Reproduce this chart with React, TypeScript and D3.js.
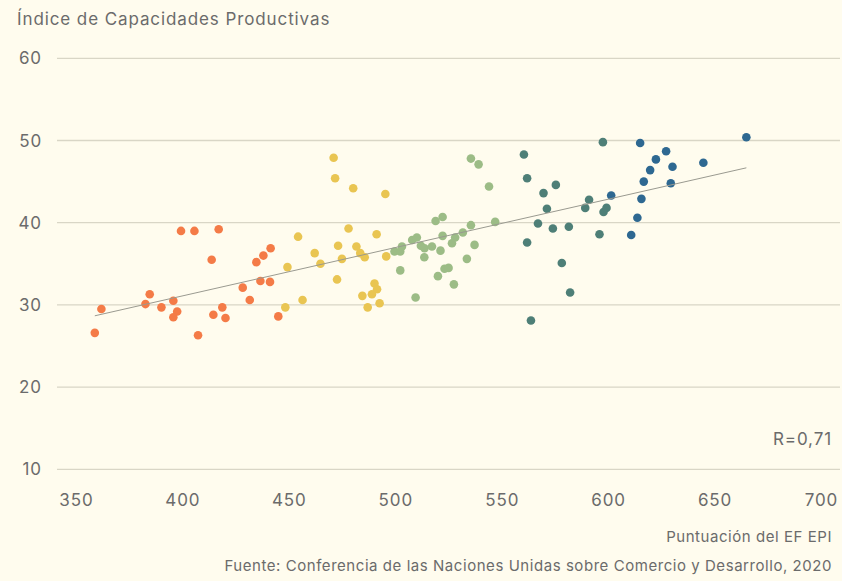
import * as d3 from 'd3'
import React from 'react'

// EF EPI score vs productive capacities index, grouped by EPI band
const naranja: [number, number][] = [
  [358.6, 26.6], [361.7, 29.5], [382.4, 30.1], [384.4, 31.3], [389.9, 29.7], [395.5, 30.5],
  [397.3, 29.2], [395.5, 28.5], [399.1, 39.0], [405.4, 39.0], [407.1, 26.3], [413.5, 35.5],
  [414.3, 28.8], [416.8, 39.2], [418.5, 29.7], [420.0, 28.4], [428.1, 32.1], [431.4, 30.6],
  [434.5, 35.2], [437.8, 36.0], [436.4, 32.9], [441.2, 36.9], [440.9, 32.8], [444.8, 28.6],
]
const amarillo: [number, number][] = [
  [449.1, 34.6], [454.1, 38.3], [461.9, 36.3], [464.6, 35.0], [448.1, 29.7], [456.2, 30.6],
  [470.8, 47.9], [471.5, 45.4], [480.0, 44.2], [495.1, 43.5], [477.8, 39.3], [491.0, 38.6],
  [472.9, 37.2], [481.5, 37.1], [483.3, 36.3], [485.4, 35.8], [474.7, 35.6], [495.5, 35.9],
  [472.4, 33.1], [490.0, 32.6], [491.2, 31.9], [488.8, 31.3], [484.3, 31.1], [492.4, 30.2],
  [486.8, 29.7],
]
const verde: [number, number][] = [
  [499.4, 36.5], [502.1, 36.5], [502.9, 37.1], [502.1, 34.2], [507.7, 37.9], [509.9, 38.2],
  [509.3, 30.9], [511.8, 37.2], [513.5, 36.9], [513.4, 35.8], [517.0, 37.1], [518.7, 40.2],
  [522.0, 40.7], [522.0, 38.4], [521.0, 36.6], [519.8, 33.5], [522.9, 34.4], [524.8, 34.5],
  [526.4, 37.5], [527.9, 38.2], [527.3, 32.5], [531.5, 38.8], [533.4, 35.6], [535.3, 39.7],
  [537.0, 37.3], [535.3, 47.8], [538.9, 47.1], [543.8, 44.4], [546.7, 40.1],
]
const petroleo: [number, number][] = [
  [560.2, 48.3], [561.7, 45.4], [569.4, 43.6], [575.2, 44.6], [571.0, 41.7], [590.8, 42.8],
  [589.0, 41.8], [566.8, 39.9], [573.8, 39.3], [581.3, 39.5], [561.7, 37.6], [578.0, 35.1],
  [581.9, 31.5], [563.5, 28.1], [597.3, 49.8], [595.7, 38.6], [597.6, 41.3], [599.0, 41.8],
]
const azul: [number, number][] = [
  [601.2, 43.3], [614.8, 49.7], [627.0, 48.7], [622.2, 47.7], [630.0, 46.8], [619.5, 46.4],
  [616.5, 45.0], [629.2, 44.8], [615.4, 42.9], [613.5, 40.6], [610.6, 38.5], [644.5, 47.3],
  [664.7, 50.4],
]

const grupos = [
  { datos: naranja, color: '#f47b47' },
  { datos: amarillo, color: '#e9c552' },
  { datos: verde, color: '#9cbc86' },
  { datos: petroleo, color: '#4e7f77' },
  { datos: azul, color: '#2e6891' },
]

const xTicks = [350, 400, 450, 500, 550, 600, 650, 700]
const yTicks = [10, 20, 30, 40, 50, 60]

const W = 842
const H = 581
const font = 'Inter, "Open Sans", sans-serif'
const txt = '#6b6b6b'

export default function App() {
  const x = d3.scaleLinear().domain([350, 700]).range([76.5, 821.5])
  const y = d3.scaleLinear().domain([10, 60]).range([469.3, 58.3])

  // least squares fit over every point
  const todos = grupos.flatMap(g => g.datos)
  const mx = d3.mean(todos, d => d[0]) as number
  const my = d3.mean(todos, d => d[1]) as number
  const sxy = d3.sum(todos, d => (d[0] - mx) * (d[1] - my))
  const sxx = d3.sum(todos, d => (d[0] - mx) ** 2)
  const b = sxy / sxx
  const a = my - b * mx
  const [x0, x1] = d3.extent(todos, d => d[0]) as [number, number]
  const linea = d3.line<number>().x(v => x(v)).y(v => y(a + b * v))

  const big = { fontFamily: font, fontSize: 17, fill: txt, letterSpacing: 0.9 }
  const small = { fontFamily: font, fontSize: 15, fill: txt, letterSpacing: 0.55 }

  return (
    <svg width={W} height={H} style={{ position: 'absolute', left: 0, top: 0, display: 'block' }}>
      <rect width={W} height={H} fill="#fffcee" />
      <text x={17} y={25} {...big}>Índice de Capacidades Productivas</text>
      {yTicks.map(t => (
        <g key={t}>
          <line x1={57} x2={840} y1={y(t)} y2={y(t)} stroke="#d9d6c6" strokeWidth={1.3} />
          <text x={42} y={y(t)} dy="0.36em" textAnchor="end" {...big}>{t}</text>
        </g>
      ))}
      {xTicks.map(t => (
        <text key={t} x={x(t)} y={506} textAnchor="middle" {...big}>{t}</text>
      ))}
      {grupos.map((g, i) => (
        <g key={i}>
          {g.datos.map((d, j) => (
            <circle key={j} cx={x(d[0])} cy={y(d[1])} r={4.3} fill={g.color} />
          ))}
        </g>
      ))}
      <path d={linea([x0, x1]) || ''} fill="none" stroke="#9a9a90" strokeWidth={1} />
      <text x={832} y={445} textAnchor="end" {...big}>R=0,71</text>
      <text x={832} y={542} textAnchor="end" {...small}>Puntuación del EF EPI</text>
      <text x={832} y={571} textAnchor="end" {...small}>Fuente: Conferencia de las Naciones Unidas sobre Comercio y Desarrollo, 2020</text>
    </svg>
  )
}
